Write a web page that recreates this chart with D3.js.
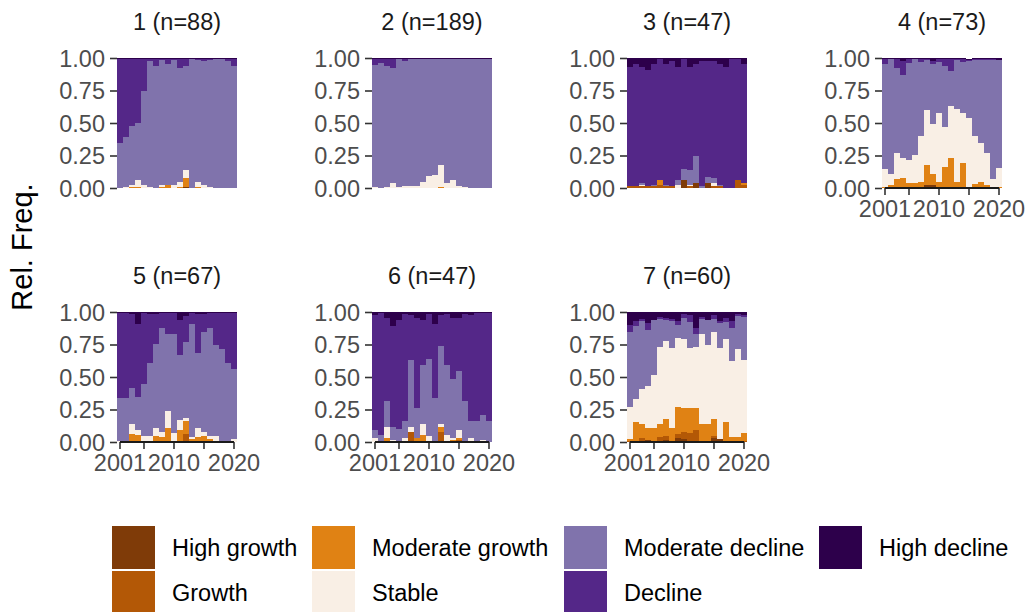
<!DOCTYPE html>
<html><head><meta charset="utf-8">
<script src="https://cdn.jsdelivr.net/npm/d3@7/dist/d3.min.js"></script>
<style>
body{margin:0;background:#fff}
svg{display:block;font-family:"Liberation Sans",Arial,sans-serif}
</style>
</head><body>
<svg id="chart" width="1027" height="612"></svg>
<script>
// ---------------- DATA ----------------
const years = [2001,2002,2003,2004,2005,2006,2007,2008,2009,2010,2011,2012,2013,2014,2015,2016,2017,2018,2019,2020];
const clusterTitles = ["1 (n=88)","2 (n=189)","3 (n=47)","4 (n=73)","5 (n=67)","6 (n=47)","7 (n=60)"];
const categories = ["High growth","Growth","Moderate growth","Stable","Moderate decline","Decline","High decline"];
const categoryColors = ["#7f3b08","#b35806","#e08214","#f9efe5","#8073ac","#542788","#2d004b"];
const xTickValues = [2001,2005,2010,2015,2020];
const xTickLabels = ["2001","","2010","","2020"];
const yTickValues = [0,0.25,0.5,0.75,1];

// one row per cluster, 20 yearly shares each
const highGrowth = [
  [0,0,0,0,0,0,0,0,0,0,0,.01,0,0,0,0,0,0,0,0],
  [0,0,0,0,0,0,0,0,0,0,0,0,0,0,0,0,0,0,0,0],
  [0,0,0,0,0,0,0,0,0,.06,0,.035,0,.035,0,0,0,0,0,0],
  [0,0,0,0,0,0,0,.02,.02,0,.01,.01,0,0,0,0,0,0,0,0],
  [0,0,0,0,0,0,0,0,0,0,0,0,0,0,0,0,0,0,0,0],
  [0,0,0,0,0,0,0,0,0,0,0,0,0,0,0,0,0,0,0,0],
  [0,0,.01,.015,.01,0,.015,0,.03,.02,.01,0,.01,.01,.03,.02,0,.01,.01,0]
];
const growth = [
  [0,0,0,0,0,0,0,0,0,0,0,0,0,0,0,0,0,0,0,0],
  [0,0,0,0,0,0,0,0,0,0,0,0,0,0,0,0,0,0,0,0],
  [.015,.015,.015,.015,.015,.02,.015,.015,0,0,.015,0,0,0,.015,.015,0,0,.06,.02],
  [0,0,0,0,0,0,0,0,0,0,0,0,0,0,0,0,0,0,0,0],
  [0,0,.01,.01,0,0,0,0,0,0,.01,.065,0,.01,0,0,0,0,0,0],
  [0,0,0,0,0,0,.08,0,.01,0,0,.08,.01,.01,.018,0,0,0,0,0],
  [.01,.01,.02,0,0,.04,.03,.01,.03,.06,.06,.09,0,0,.02,0,.01,0,0,.01]
];
const moderateGrowth = [
  [0,0,.01,.01,0,0,0,.01,.02,0,.01,.07,0,.01,0,0,0,0,0,0],
  [0,0,0,0,0,0,0,0,0,0,0,.01,0,0,0,0,0,0,0,0],
  [0,0,0,0,0,.04,0,0,0,0,0,0,0,0,0,0,0,0,0,.015],
  [.01,.02,.07,.08,.04,.04,.05,.155,.085,.05,.15,.22,.05,.19,.01,.03,.05,.02,.01,.01],
  [0,0,.055,.045,.01,0,.05,.04,.11,0,.085,.093,.025,.03,.05,.025,.01,0,0,0],
  [0,.01,.033,0,0,0,0,.033,.046,0,0,.039,0,.008,.015,0,0,0,0,0],
  [.016,.147,.112,.096,.101,.102,.135,.101,.213,.178,.188,.168,.132,.132,.13,.006,.147,.031,.031,.062]
];
const stable = [
  [0,.01,.01,.05,.02,.01,0,.01,0,.02,.04,.06,0,.04,.02,.01,0,0,0,0],
  [.01,0,.01,.035,.01,.015,.015,.015,.05,.09,.10,.17,.035,.065,.015,.01,0,0,0,0],
  [0,0,.005,0,0,0,0,0,.02,0,.005,0,0,0,.02,0,0,0,0,0],
  [.14,.085,.20,.15,.175,.215,.35,.425,.385,.53,.31,.40,.56,.39,.53,.37,.30,.25,.057,.147],
  [.01,.01,.077,.04,.04,.05,.06,.04,.125,.07,.077,.03,.01,.07,.03,.025,.04,0,0,.025],
  [.033,0,.085,.018,.01,.033,.039,0,.085,.046,.01,.023,.046,.015,.062,0,.033,.01,.018,0],
  [.247,.17,.263,.317,.402,.587,.596,.611,.526,.533,.464,.471,.688,.603,.665,.696,.634,.58,.673,.557]
];
const moderateDecline = [
  [.35,.38,.46,.44,.73,.965,.94,.965,.935,.965,.87,.80,.99,.935,.96,.975,.99,.99,.975,.94],
  [.94,.965,.925,.885,.98,.965,.975,.975,.94,.90,.89,.81,.955,.925,.975,.98,.99,.99,.99,.99],
  [0,0,.015,0,.005,0,.005,0,.04,.085,.12,.215,.015,.05,.045,.005,0,0,0,0],
  [.805,.885,.65,.64,.745,.735,.57,.385,.465,.39,.465,.27,.375,.39,.44,.585,.635,.715,.92,.825],
  [.325,.325,.27,.255,.393,.556,.643,.796,.595,.76,.496,.58,.872,.573,.765,.826,.695,.714,.606,.535],
  [.062,.047,.194,.101,.093,.132,.51,.232,.449,.591,.325,.595,.534,.449,.449,.312,.132,.155,.186,.165],
  [.572,.565,.525,.433,.425,.217,.162,.208,.101,.163,.201,.101,.116,.193,.101,.193,.132,.255,.255,.332]
];
const decline = [
  [.64,.60,.51,.49,.24,.015,.05,.005,.035,.005,.07,.05,0,.005,.01,.005,0,0,.015,.05],
  [.04,.025,.055,.07,0,.01,0,0,0,0,0,0,0,0,0,0,0,0,0,0],
  [.915,.94,.895,.895,.935,.93,.935,.96,.87,.845,.79,.705,.96,.89,.895,.935,.93,.99,.93,.92],
  [.035,0,.07,.11,.035,.005,.02,.005,.025,.02,.055,.09,.005,.02,.005,.005,.005,.005,.005,.005],
  [.655,.655,.573,.56,.547,.379,.232,.114,.16,.16,.272,.202,.083,.302,.14,.114,.245,.276,.384,.43],
  [.885,.933,.642,.773,.837,.82,.351,.689,.35,.348,.575,.243,.395,.472,.41,.673,.815,.83,.791,.83],
  [.055,.038,.016,.054,0,.015,.016,.016,.03,.031,.054,.046,.015,0,.031,.015,.031,.054,.016,.016]
];
const highDecline = [
  [.01,.01,.01,.01,.01,.01,.01,.01,.01,.01,.01,.01,.01,.01,.01,.01,.01,.01,.01,.01],
  [.01,.01,.01,.01,.01,.01,.01,.01,.01,.01,.01,.01,.01,.01,.01,.01,.01,.01,.01,.01],
  [.07,.045,.07,.09,.045,.01,.045,.025,.07,.01,.07,.045,.025,.025,.025,.045,.07,.01,.01,.045],
  [.01,.01,.01,.02,.01,.01,.01,.01,.02,.01,.01,.01,.01,.01,.01,.01,.01,.01,.01,.01],
  [.01,.01,.015,.09,.01,.015,.015,.01,.01,.01,.06,.03,.01,.015,.015,.01,.01,.01,.01,.01],
  [.02,.01,.046,.108,.06,.015,.02,.046,.06,.015,.09,.02,.015,.046,.046,.015,.02,.005,.005,.005],
  [.10,.07,.054,.085,.062,.039,.046,.054,.07,.015,.023,.124,.039,.062,.023,.07,.046,.07,.015,.023]
];
const seriesByCategory = [highGrowth, growth, moderateGrowth, stable, moderateDecline, decline, highDecline];

// ---------------- LAYOUT ----------------
const svg = d3.select("#chart");
const panelW = 120, panelH = 130;
const colX = [117, 372, 627, 882];
const rowY = [58, 312];
const fontSize = 23.5;
const color = d3.scaleOrdinal().domain(categories).range(categoryColors);

clusterTitles.forEach((title, p) => {
  const row = p < 4 ? 0 : 1, col = p < 4 ? p : p - 4;
  const x0 = colX[col], y0 = rowY[row];
  const showX = p >= 3;

  const rows = years.map((yr, i) => {
    const o = {year: yr};
    categories.forEach((c, k) => { o[c] = seriesByCategory[k][p][i]; });
    return o;
  });
  const stacked = d3.stack().keys(categories)(rows);

  const x = d3.scaleBand().domain(years).range([x0, x0 + panelW]).padding(0);
  const y = d3.scaleLinear().domain([0, 1]).range([y0 + panelH, y0]);

  const g = svg.append("g");
  g.selectAll("g.layer").data(stacked).join("g")
    .attr("fill", d => color(d.key))
    .selectAll("rect").data(d => d).join("rect")
      .attr("x", d => x(d.data.year))
      .attr("width", x.bandwidth())
      .attr("y", d => y(Math.min(1, d[1])))
      .attr("height", d => Math.max(0, y(d[0]) - y(Math.min(1, d[1]))))
      .attr("shape-rendering", "crispEdges");

  // panel title
  svg.append("text")
    .attr("x", x0 + panelW / 2).attr("y", y0 - 28)
    .attr("text-anchor", "middle")
    .attr("font-size", fontSize).attr("fill", "#1a1a1a")
    .text(title);

  // y axis
  const ya = svg.append("g").attr("transform", `translate(${x0},0)`)
    .call(d3.axisLeft(y).tickValues(yTickValues).tickFormat(d3.format(".2f")).tickSize(7).tickPadding(5));
  ya.select(".domain").remove();
  ya.selectAll(".tick line").attr("stroke", "#333").attr("stroke-width", 1.6);
  ya.selectAll(".tick text").attr("font-size", fontSize).attr("fill", "#4d4d4d")
    .attr("font-family", "Liberation Sans, Arial, sans-serif").attr("dy", "0.36em");

  if (showX) {
    const xa = svg.append("g").attr("transform", `translate(0,${y0 + panelH})`)
      .call(d3.axisBottom(x).tickValues(xTickValues)
        .tickFormat((d, i) => xTickLabels[i]).tickSize(7).tickPadding(5));
    xa.select(".domain").remove();
    xa.selectAll(".tick line").attr("stroke", "#333").attr("stroke-width", 1.6);
    xa.selectAll(".tick text").attr("font-size", fontSize).attr("fill", "#4d4d4d")
      .attr("font-family", "Liberation Sans, Arial, sans-serif");
    xa.append("line")
      .attr("x1", x(years[0]) + x.bandwidth() / 2)
      .attr("x2", x(years[years.length - 1]) + x.bandwidth() / 2)
      .attr("y1", 0).attr("y2", 0)
      .attr("stroke", "#1a1a1a").attr("stroke-width", 1.8);
  }
});

// y axis title
svg.append("text")
  .attr("transform", "translate(32,247) rotate(-90)")
  .attr("text-anchor", "middle")
  .attr("font-size", 29).attr("fill", "#000")
  .text("Rel. Freq.");

// legend (column-major, 2 rows)
const legendCols = [112, 312, 564, 819];
const legendRows = [526, 571];
const keySize = 43;
categories.forEach((c, k) => {
  const col = Math.floor(k / 2), row = k % 2;
  const lx = legendCols[col], ly = legendRows[row];
  svg.append("rect").attr("x", lx).attr("y", ly).attr("width", keySize).attr("height", keySize)
    .attr("fill", color(c));
  svg.append("text").attr("x", lx + 60).attr("y", ly + keySize / 2)
    .attr("dy", "0.36em").attr("font-size", fontSize).attr("fill", "#000").text(c);
});
</script>
</body></html>
